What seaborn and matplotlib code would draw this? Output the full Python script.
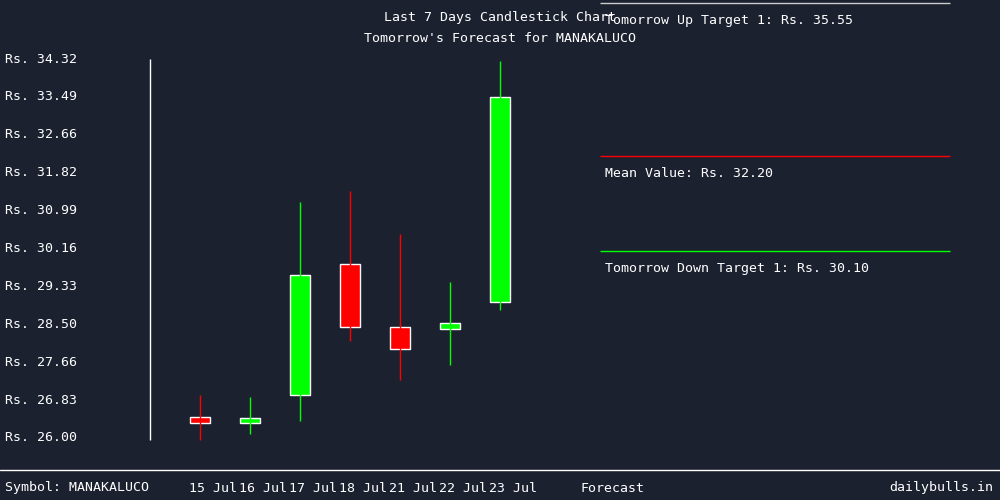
import matplotlib
matplotlib.use("Agg")
import matplotlib.pyplot as plt
import seaborn as sns
import numpy as np

dates = ["15 Jul", "16 Jul", "17 Jul", "18 Jul", "21 Jul", "22 Jul", "23 Jul"]
opens = [26.46, 26.33, 26.94, 29.82, 28.44, 28.39, 28.99]
closes = [26.33, 26.42, 29.58, 28.44, 27.95, 28.53, 33.49]
highs = [26.94, 26.90, 31.18, 31.42, 30.48, 29.42, 34.28]
lows = [25.96, 26.09, 26.37, 28.13, 27.27, 27.60, 28.81]
yticks = [26.00, 26.83, 27.66, 28.50, 29.33, 30.16, 30.99, 31.82, 32.66, 33.49, 34.32]
up_target, mean_val, down_target = 35.55, 32.20, 30.10

bg = "#1c2130"
sns.set_style("dark", {"axes.facecolor": bg, "figure.facecolor": bg})
plt.rcParams['font.family'] = ['DejaVu Sans Mono']
fig = plt.figure(figsize=(10, 5), dpi=100)
ax = fig.add_axes([0, 0, 1, 1])
ax.set_facecolor(bg)
ax.set_xlim(-4, 16)
ylo, yhi = 34.32 - 441 / 45.55, 34.32 + 59 / 45.55
ax.set_ylim(ylo, yhi)
ax.axis("off")

x = np.arange(len(dates))
for i in x:
    c = "#00ff00" if closes[i] >= opens[i] else "#ff0000"
    ax.vlines(i, lows[i], highs[i], color=c, lw=1)
    b = min(opens[i], closes[i]); h = max(abs(closes[i] - opens[i]), 0.1)
    ax.bar(i, h, bottom=b, width=0.4, color=c)

# y axis
ax.vlines(-1, 26.0 - 0.05, 34.32, color="white", lw=1)
for v in yticks:
    ax.text(-3.9, v, f"Rs. {v:.2f}", color="white", fontsize=9.5, va="center", ha="left")

# forecast lines
ax.hlines(up_target, 8, 15, color="#cccccc", lw=1)
ax.hlines(mean_val, 8, 15, color="#ff0000", lw=1)
ax.hlines(down_target, 8, 15, color="#00ff00", lw=1)
ax.text(8.1, up_target - 0.38, f"Tomorrow Up Target 1: Rs. {up_target:.2f}", color="white", fontsize=9.5, va="center")
ax.text(8.1, mean_val - 0.39, f"Mean Value: Rs. {mean_val:.2f}", color="white", fontsize=9.5, va="center")
ax.text(8.1, down_target - 0.39, f"Tomorrow Down Target 1: Rs. {down_target:.2f}", color="white", fontsize=9.5, va="center")

fig.text(0.5, 1 - 18 / 500, "Last 7 Days Candlestick Chart", color="white", fontsize=9.5, ha="center", va="center")
fig.text(0.5, 1 - 38 / 500, "Tomorrow's Forecast for MANAKALUCO", color="white", fontsize=9.5, ha="center", va="center")

# bottom bar
fig.add_artist(plt.Line2D([0, 1], [1 - 470 / 500] * 2, color="white", lw=1))
by = 1 - 488 / 500
fig.text(0.005, by, "Symbol: MANAKALUCO", color="white", fontsize=9.5, va="center")
for i, d in enumerate(dates):
    fig.text((213 + 50 * i) / 1000, by, d, color="white", fontsize=9.5, ha="center", va="center")
fig.text(0.612, by, "Forecast", color="white", fontsize=9.5, ha="center", va="center")
fig.text(0.993, by, "dailybulls.in", color="white", fontsize=9.5, ha="right", va="center")

fig.savefig("out.png", dpi=100, facecolor=bg)
